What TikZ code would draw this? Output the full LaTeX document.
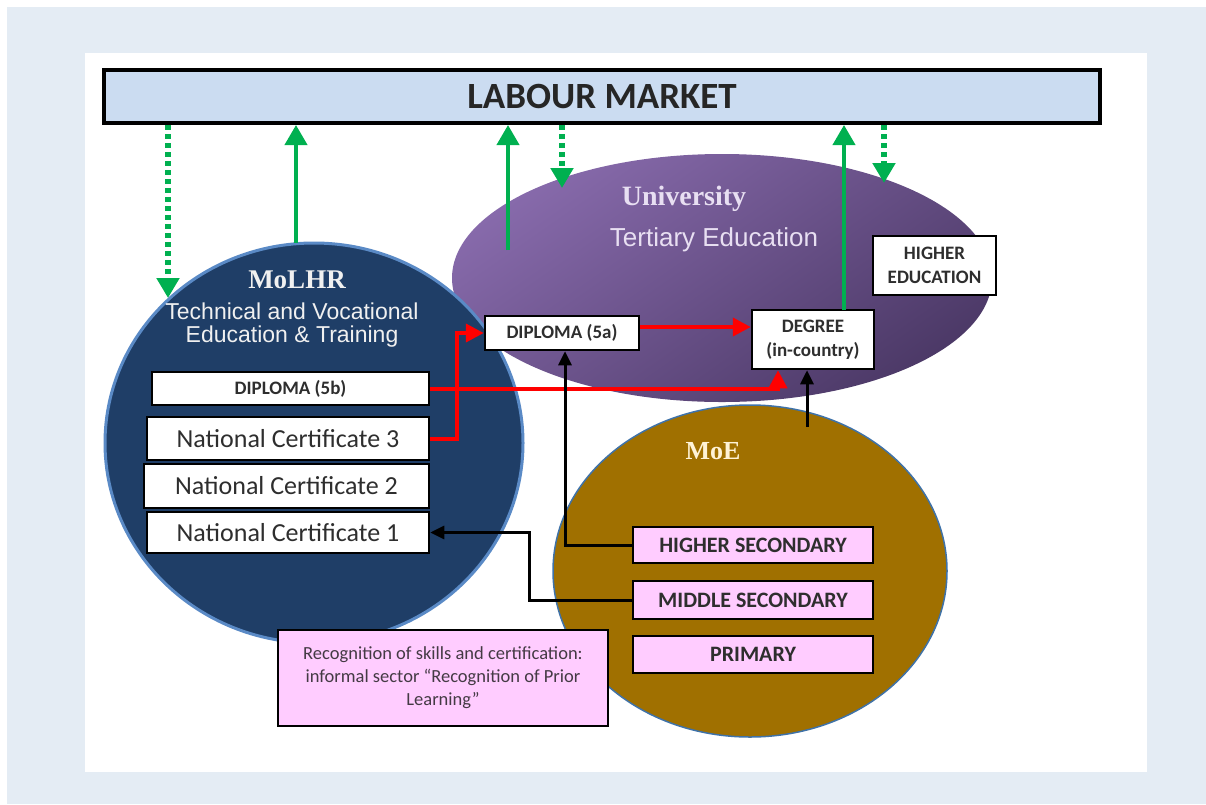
\documentclass[tikz,border=0pt]{standalone}
\usepackage{fontspec}
\setmainfont{Carlito}
\newfontfamily\arialf{Liberation Sans}
\newfontfamily\seriff{Liberation Serif}
\usetikzlibrary{shapes.geometric,arrows.meta,calc}
\definecolor{bgblue}{HTML}{E4ECF4}
\definecolor{lmfill}{HTML}{CBDCF1}
\definecolor{navy}{HTML}{1F3E67}
\definecolor{navyedge}{HTML}{5A8AC6}
\definecolor{uniL}{HTML}{876AAB}
\definecolor{uniD}{HTML}{4C3967}
\definecolor{brown}{HTML}{A07000}
\definecolor{brownedge}{HTML}{3F72A8}
\definecolor{pinkf}{HTML}{FFCCFF}
\definecolor{gr}{HTML}{00B050}
\definecolor{txtgrey}{HTML}{2E2E2E}
\definecolor{rpltxt}{HTML}{443A44}
\definecolor{unitxt}{HTML}{E8DFF2}
\definecolor{moetxt}{HTML}{FFF3D6}
\begin{document}
\begin{tikzpicture}[x=1pt,y=-1pt,
  wbox/.style={draw=black, line width=2.5pt, fill=white, inner sep=0pt, text=txtgrey, align=center},
  pbox/.style={draw=black, line width=2.5pt, fill=pinkf, inner sep=0pt, text=txtgrey, align=center},
  smallbold/.style={font=\bfseries\fontsize{19}{24}\selectfont},
  ncfont/.style={font=\fontsize{26}{28}\selectfont},
  moefont/.style={font=\bfseries\fontsize{22}{24}\selectfont},
  garrow/.style={draw=gr, line width=4pt, -{Triangle[length=20pt,width=22pt]}},
  gdots/.style={draw=gr, line width=6pt, dash pattern=on 5pt off 4pt, -{Triangle[length=20pt,width=22pt]}},
  rarrow/.style={draw=red, line width=4pt, -{Triangle[length=18pt,width=18pt]}},
  barrow/.style={draw=black, line width=3pt, -{Triangle[length=14pt,width=13pt]}}
]
\useasboundingbox (0,0) rectangle (1206,804);
\fill[bgblue] (7,7) rectangle (1206,804);
\fill[white] (85,53) rectangle (1147,772);

% organisations
\node[ellipse, minimum width=540pt, minimum height=248pt, inner sep=0pt,
      top color=uniL, bottom color=uniD, shading angle=35] (uni) at (722,278) {};
\node[ellipse, minimum width=394pt, minimum height=332pt, inner sep=0pt,
      fill=brown, draw=brownedge, line width=1.5pt] (moe) at (750,571) {};
\node[ellipse, minimum width=418pt, minimum height=400pt, inner sep=0pt,
      fill=navy, draw=navyedge, line width=3pt] (molhr) at (314,443) {};

% labour market
\node[draw=black, line width=4pt, fill=lmfill, minimum width=996pt, minimum height=53pt,
      inner sep=0pt, font=\bfseries\fontsize{37}{40}\selectfont, text=black!85] (lm) at (602,96.5) {LABOUR MARKET};

% titles
\node[font=\seriff\bfseries\fontsize{27}{30}\selectfont, text=white!94!black] (molhrT) at (297,280) {MoLHR};
\node[font=\arialf\fontsize{23}{23.5}\selectfont, text=white!94!black, align=center] (tvet) at (292,325) {Technical and Vocational\\Education \& Training};
\node[font=\seriff\bfseries\fontsize{28}{30}\selectfont, text=unitxt] (uniT) at (684,199) {University};
\node[font=\arialf\fontsize{26}{28}\selectfont, text=unitxt] (tert) at (714,240) {Tertiary Education};
\node[font=\seriff\bfseries\fontsize{26}{28}\selectfont, text=moetxt] (moeT) at (713,451) {MoE};

% MoLHR boxes
\node[wbox, smallbold, minimum width=277pt, minimum height=33pt] (d5b) at (290.5,388.5) {DIPLOMA (5b)};
\node[wbox, ncfont, minimum width=282pt, minimum height=43pt] (nc3) at (288,438.5) {National Certificate 3};
\node[wbox, ncfont, minimum width=285pt, minimum height=44pt] (nc2) at (286.5,486) {National Certificate 2};
\node[wbox, ncfont, minimum width=282pt, minimum height=41pt] (nc1) at (288,532.5) {National Certificate 1};

% University boxes
\node[wbox, smallbold, minimum width=154pt, minimum height=34pt] (d5a) at (562,333) {DIPLOMA (5a)};
\node[wbox, smallbold, minimum width=122pt, minimum height=59pt] (deg) at (813,339.5) {DEGREE\\(in-country)};
\node[wbox, smallbold, minimum width=123pt, minimum height=59pt] (hed) at (934.5,265.5) {HIGHER\\EDUCATION};

% MoE boxes
\node[pbox, moefont, minimum width=240pt, minimum height=36pt] (hs) at (753,545) {HIGHER SECONDARY};
\node[pbox, moefont, minimum width=240pt, minimum height=38pt] (ms) at (753,600) {MIDDLE SECONDARY};
\node[pbox, moefont, minimum width=240pt, minimum height=37pt] (pr) at (753,654.5) {PRIMARY};

% RPL box
\node[pbox, text=rpltxt, font=\fontsize{18.5}{23}\selectfont, minimum width=330pt, minimum height=96pt] (rpl) at (443,678)
  {Recognition of skills and certification:\\informal sector ``Recognition of Prior\\Learning''};

% coordinates for free ends
\coordinate (g1) at (168,298);
\coordinate (g2) at (296,243);
\coordinate (g3) at (508,250);
\coordinate (g4) at (562,188);
\coordinate (g5) at (844,310);
\coordinate (g6) at (884,183);
\coordinate (moeTop) at (807,427);
\coordinate (r3) at ($(d5a.east)+(0,-6)$);

% green links with labour market
\draw[gdots] (lm.south -| g1) -- (g1);
\draw[garrow] (g2) -- (g2 |- lm.south);
\draw[garrow] (g3) -- (g3 |- lm.south);
\draw[gdots] (lm.south -| g4) -- (g4);
\draw[garrow] (g5) -- (g5 |- lm.south);
\draw[gdots] (lm.south -| g6) -- (g6);

% red progression links
\draw[rarrow] (nc3.east) -- ++(27,0) |- (d5a.west);
\draw[rarrow] (d5b.east) -| ([xshift=-35pt]deg.south);
\draw[rarrow] (r3) -- (r3 -| deg.west);

% black links
\draw[barrow] (hs.west) -| ([xshift=3pt]d5a.south);
\draw[barrow] (ms.west) -- ++(-102,0) |- (nc1.east);
\draw[barrow] (moeTop) -- (moeTop |- deg.south);
\end{tikzpicture}
\end{document}
